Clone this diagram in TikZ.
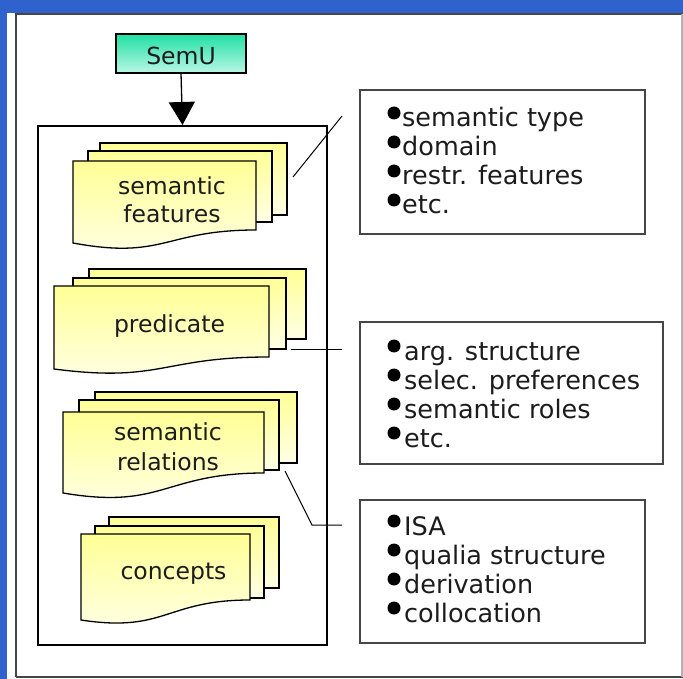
\documentclass[tikz,border=0pt]{standalone}
\usepackage{fontspec}
\setmainfont{DejaVu Sans}
\usetikzlibrary{arrows.meta}
\definecolor{bgblue}{RGB}{48,98,205}
\definecolor{yelA}{RGB}{255,255,150}
\definecolor{yelB}{RGB}{255,255,230}
\definecolor{grnA}{RGB}{32,224,164}
\definecolor{grnB}{RGB}{186,247,228}
\definecolor{ink}{RGB}{28,28,28}
\definecolor{frame}{RGB}{70,70,70}
\tikzset{
  sheet/.style={draw=black, line width=1.3pt, top color=yelA, bottom color=yelB, line join=miter},
  semubox/.style={draw=black, line width=1.3pt, top color=grnA, bottom color=grnB, inner sep=0pt, minimum width=130pt, minimum height=39pt},
  lbl/.style={text=ink, inner sep=0pt, font=\fontsize{23.5}{28}\selectfont},
  item/.style={text=ink, inner sep=0pt, anchor=base west, font=\fontsize{25.5}{29}\selectfont},
  listbox/.style={draw=frame, line width=2pt, anchor=north west, inner sep=0pt},
  mainbox/.style={draw=black, line width=2pt, anchor=north west, inner sep=0pt},
  conn/.style={draw=black, line width=1pt},
  bul/.style={fill=black}
}
\begin{document}
\begin{tikzpicture}[x=1pt,y=-1pt]
\useasboundingbox (0,0) rectangle (683,679);
% background
\fill[bgblue] (0,0) rectangle (683,679);
\fill[white] (7,13) rectangle (683,679);
\draw[frame, line width=1.6pt] (16,677) -- (16,14) -- (683,14);
\draw[frame, line width=1.6pt] (16,677) -- (683,677);
\draw[gray!60, line width=1.2pt] (682,14) -- (682,677);

% main box
\node[mainbox, minimum width=289pt, minimum height=519pt] (main) at (37,125) {};

% SemU
\node[semubox] (semu) at (181,53.5) {};
\node[lbl, anchor=base] (semut) at (181,65) {SemU};
\draw[line width=1.3pt, -{Triangle[width=26pt,length=23pt]}] (semu.south) -- (main.north);

% semantic features stack
\path[sheet] (100,143) rectangle (287,215);
\path[sheet] (88,151) rectangle (272,222);
\path[sheet] (73,161) -- (256,161) -- (256,230) .. controls (164.5,230) and (164.5,260) .. (73,243) -- cycle;
\node[lbl, anchor=base] (sf1) at (172,195) {semantic};
\node[lbl, anchor=base] (sf2) at (172,223) {features};

% predicate stack
\path[sheet] (89,269) rectangle (306,339);
\path[sheet] (73,278) rectangle (286,349);
\path[sheet] (54,286) -- (269,286) -- (269,357) .. controls (161.5,357) and (161.5,383) .. (54,369) -- cycle;
\node[lbl, anchor=base] (pr1) at (169.5,332) {predicate};

% semantic relations stack
\path[sheet] (95,392) rectangle (297,463);
\path[sheet] (79,400) rectangle (279,470);
\path[sheet] (63,412) -- (264,412) -- (264,473) .. controls (163.5,473) and (163.5,510) .. (63,493) -- cycle;
\node[lbl, anchor=base] (sr1) at (168,440) {semantic};
\node[lbl, anchor=base] (sr2) at (168,470) {relations};

% concepts stack
\path[sheet] (109,517) rectangle (279,588);
\path[sheet] (95,526) rectangle (264,598);
\path[sheet] (81,534) -- (250,534) -- (250,600) .. controls (165.5,600) and (165.5,633) .. (81,620) -- cycle;
\node[lbl, anchor=base] (co1) at (173.5,579) {concepts};

% list boxes
\node[listbox, minimum width=285pt, minimum height=144pt] (b1) at (359,89) {};
\node[listbox, minimum width=303pt, minimum height=142pt] (b2) at (359,321) {};
\node[listbox, minimum width=285pt, minimum height=143pt] (b3) at (359,499) {};

\foreach \yy/\txt [count=\i] in {127/semantic type, 156/domain, 185/restr. features, 214/etc.} {
  \node[item] (ba\i) at (402,\yy) {\txt};
  \fill[bul] (394,\yy-14) circle [radius=6.5pt];
}
\foreach \yy/\txt [count=\i] in {360/arg. structure, 389/selec. preferences, 418/semantic roles, 447/etc.} {
  \node[item] (bb\i) at (404,\yy) {\txt};
  \fill[bul] (394,\yy-14) circle [radius=6.5pt];
}
\foreach \yy/\txt [count=\i] in {535/ISA, 564/qualia structure, 593/derivation, 622/collocation} {
  \node[item] (bc\i) at (404,\yy) {\txt};
  \fill[bul] (394,\yy-14) circle [radius=6.5pt];
}

% connectors
\coordinate (c1a) at (293,177);
\coordinate (c1b) at (342,116);
\coordinate (c2a) at (291,349);
\coordinate (c2b) at (342,349);
\coordinate (c3a) at (285,471);
\coordinate (c3m) at (312,525);
\coordinate (c3b) at (342,525);
\draw[conn] (c1a) -- (c1b);
\draw[conn] (c2a) -- (c2b);
\draw[conn] (c3a) -- (c3m) -- (c3b);
\end{tikzpicture}
\end{document}
